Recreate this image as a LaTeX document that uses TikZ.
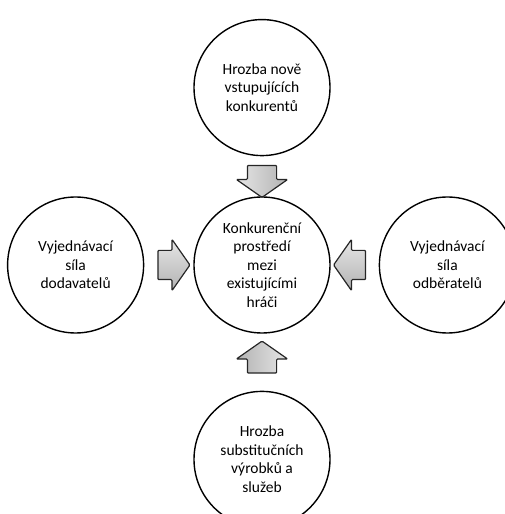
\documentclass[tikz,border=0pt]{standalone}
\usepackage{fontspec}
\setmainfont{Carlito}
\usetikzlibrary{positioning,shapes.arrows}

\begin{document}
\begin{tikzpicture}[node distance=45pt,
    font=\fontsize{15.5}{18.5}\selectfont,
    base/.style={circle,draw,line width=1.4pt,minimum size=136pt,inner sep=0pt,align=center},
    arr/.style={single arrow,draw=black!85,line width=1.2pt,rounded corners=1pt,
        top color=gray!20,bottom color=gray!60,minimum height=32pt,
        single arrow head extend=11pt,single arrow tip angle=110,
        inner xsep=0pt,inner ysep=14pt,text width=0pt,text height=0pt,text depth=0pt}]

    \useasboundingbox (0,0) rectangle (505pt,514pt);

    \node[base] (K) at (262pt,249pt)
    {Konkurenční\\prostředí\\mezi\\existujícími\\hráči};

    \node[base, above=40pt of K] (H1)
    {Hrozba nově\\vstupujících\\konkurentů};

    \node[base, left=49pt of K] (V1)
    {Vyjednávací\\síla\\dodavatelů};

    \node[base, right=48pt of K] (V2)
    {Vyjednávací\\síla\\odběratelů};

    \node[base, below=57pt of K] (H2)
    {Hrozba\\substitučních\\výrobků a\\služeb};

    \path
    {
        (H1) -- node[arr, rotate=-90, left color=gray!20, right color=gray!60] {} (K)
        (V1) -- node[arr] {} (K)
        (V2) -- node[arr, shape border rotate=180] {} (K)
        (H2) -- node[arr, rotate=90, left color=gray!60, right color=gray!20] {} (K)
    };
\end{tikzpicture}
\end{document}
